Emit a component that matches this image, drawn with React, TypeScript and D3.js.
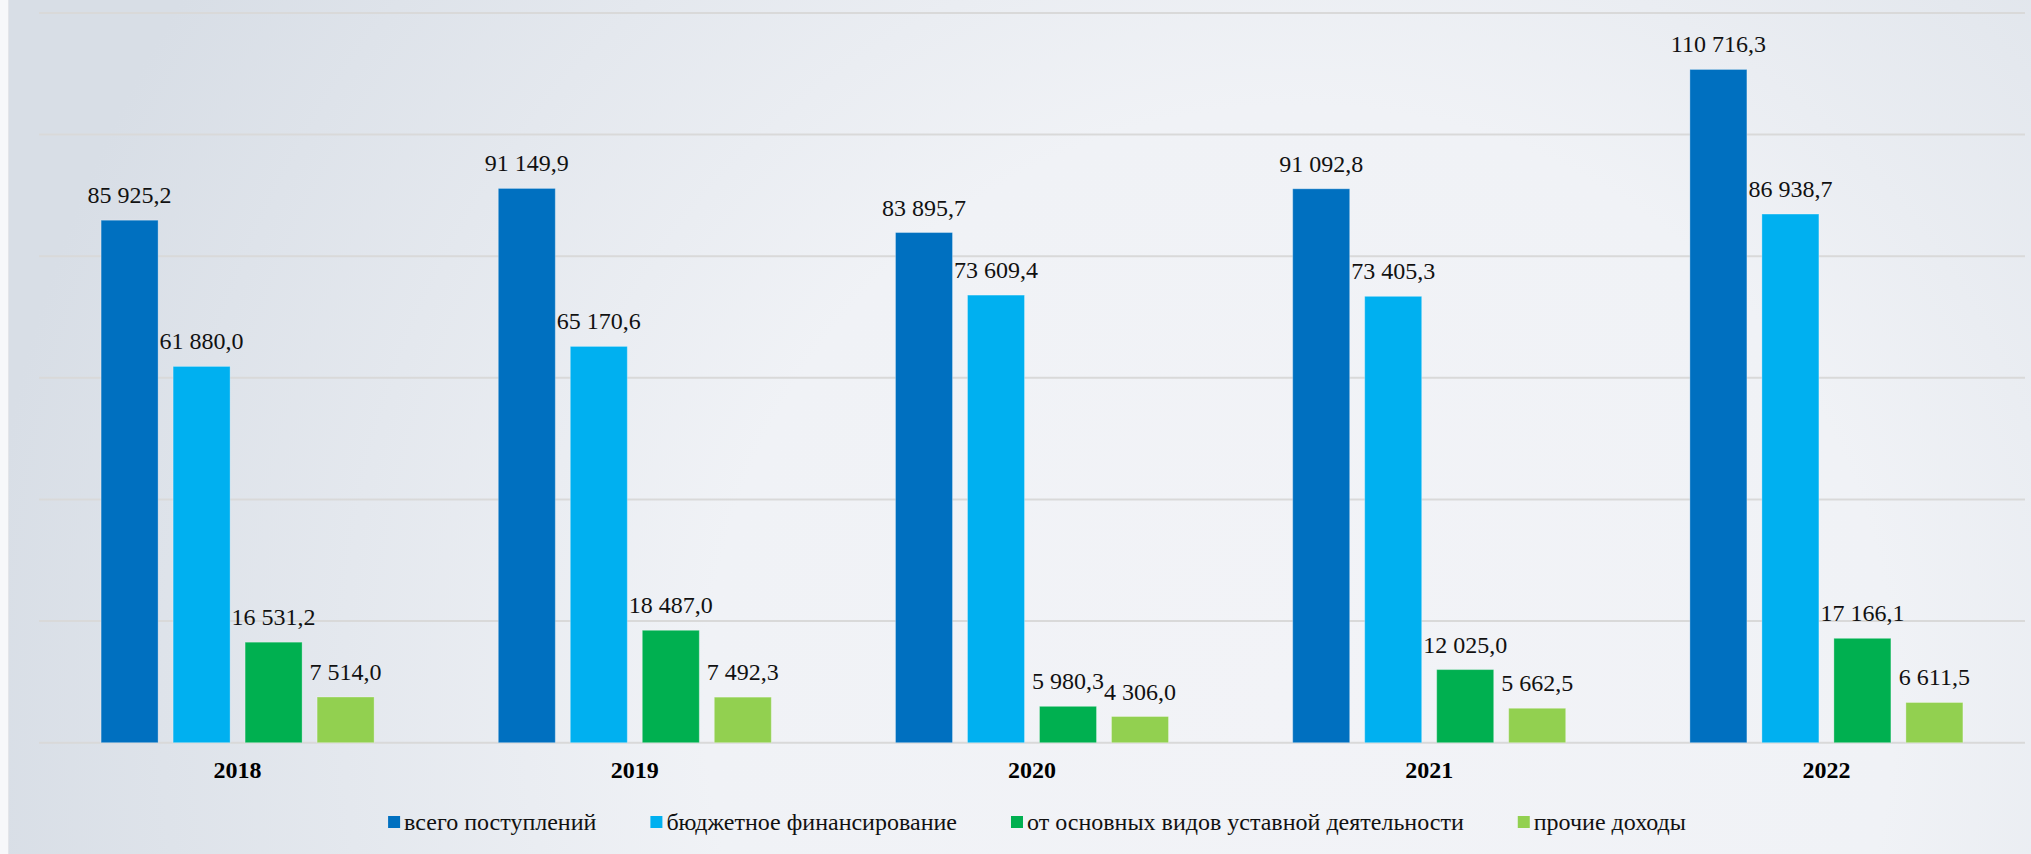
import React, { useEffect, useRef } from "react";
import * as d3 from "d3";

const years = ["2018", "2019", "2020", "2021", "2022"];
const seriesNames = [
  "всего поступлений",
  "бюджетное финансирование",
  "от основных видов уставной деятельности",
  "прочие доходы",
];
const seriesColors = ["#0070c0", "#00b0f0", "#00b050", "#92d050"];
const totalIncome = [85925.2, 91149.9, 83895.7, 91092.8, 110716.3];
const budgetFunding = [61880.0, 65170.6, 73609.4, 73405.3, 86938.7];
const mainActivity = [16531.2, 18487.0, 5980.3, 12025.0, 17166.1];
const otherIncome = [7514.0, 7492.3, 4306.0, 5662.5, 6611.5];
const gridTicks = [0, 20000, 40000, 60000, 80000, 100000, 120000];

const W = 2031;
const H = 854;
const font = "Liberation Serif, Tinos, Times New Roman, DejaVu Serif, serif";

// "85 925,2" style
const fmt = (v: number) => {
  const [int, dec] = v.toFixed(1).split(".");
  return int.replace(/\B(?=(\d{3})+(?!\d))/g, " ") + "," + dec;
};

function App() {
  const ref = useRef<SVGSVGElement>(null);

  useEffect(() => {
    const svg = d3.select(ref.current);
    svg.selectAll("*").remove();

    const defs = svg.append("defs");
    const grad = defs
      .append("radialGradient")
      .attr("id", "bg")
      .attr("gradientUnits", "userSpaceOnUse")
      .attr("cx", 1300)
      .attr("cy", 700)
      .attr("r", 1320);
    grad.append("stop").attr("offset", 0).attr("stop-color", "#f2f3f7");
    grad.append("stop").attr("offset", 0.45).attr("stop-color", "#f0f2f6");
    grad.append("stop").attr("offset", 1).attr("stop-color", "#d8dee6");

    svg.append("rect").attr("width", W).attr("height", H).attr("fill", "#f7f8fa");
    svg.append("rect").attr("x", 8).attr("width", W - 8).attr("height", H).attr("fill", "url(#bg)");
    svg.append("line").attr("x1", 8.5).attr("x2", 8.5).attr("y1", 0).attr("y2", H)
      .attr("stroke", "#e3e5e9").attr("stroke-width", 1);

    const data = [totalIncome, budgetFunding, mainActivity, otherIncome];

    const x0 = d3.scaleBand().domain(years).range([39, 2025]);
    const x1 = d3
      .scaleBand()
      .domain(seriesNames)
      .range([-136.5, 136.5])
      .paddingInner(15 / 72);
    const y = d3.scaleLinear().domain([0, 120000]).range([742.7, 13]);

    // gridlines
    svg
      .append("g")
      .selectAll("line")
      .data(gridTicks)
      .enter()
      .append("line")
      .attr("x1", 39)
      .attr("x2", 2025)
      .attr("y1", (d) => y(d))
      .attr("y2", (d) => y(d))
      .attr("stroke", "#d9d9d9")
      .attr("stroke-width", 2);

    const groups = svg
      .append("g")
      .selectAll("g")
      .data(years)
      .enter()
      .append("g")
      .attr("transform", (d) => `translate(${x0(d)! + x0.bandwidth() / 2},0)`);

    seriesNames.forEach((name, si) => {
      groups
        .append("rect")
        .attr("x", x1(name)!)
        .attr("width", x1.bandwidth())
        .attr("y", (d, i) => y(data[si][i]))
        .attr("height", (d, i) => y(0) - y(data[si][i]))
        .attr("fill", seriesColors[si])
        .attr("stroke", "rgba(255,255,255,0.3)")
        .attr("stroke-width", 1);

      groups
        .append("text")
        .attr("x", x1(name)! + x1.bandwidth() / 2)
        .attr("y", (d, i) => y(data[si][i]) - 17)
        .attr("text-anchor", "middle")
        .style("font-family", font)
        .style("font-size", "24px")
        .attr("fill", "#111")
        .text((d, i) => fmt(data[si][i]));
    });

    // category labels
    groups
      .append("text")
      .attr("y", 778)
      .attr("text-anchor", "middle")
      .style("font-family", font)
      .style("font-size", "24px")
      .style("font-weight", "bold")
      .attr("fill", "#000")
      .text((d) => d);

    // legend
    const legend = svg.append("g");
    const items = legend
      .selectAll("g")
      .data(seriesNames)
      .enter()
      .append("g");
    items
      .append("rect")
      .attr("y", 816)
      .attr("width", 12)
      .attr("height", 12)
      .attr("fill", (d, i) => seriesColors[i]);
    items
      .append("text")
      .attr("x", 16)
      .attr("y", 830)
      .style("font-family", font)
      .style("font-size", "24px")
      .attr("fill", "#111")
      .text((d) => d);

    const widths: number[] = [];
    items.select("text").each(function () {
      widths.push(16 + (this as SVGTextElement).getComputedTextLength());
    });
    const gap = 54;
    const total = d3.sum(widths) + gap * (widths.length - 1);
    let cx = 1037 - total / 2;
    items.attr("transform", (d, i) => {
      const t = `translate(${cx},0)`;
      cx += widths[i] + gap;
      return t;
    });
  }, []);

  return (
    <svg
      ref={ref}
      width={W}
      height={H}
      style={{ position: "absolute", left: 0, top: 0, display: "block" }}
    />
  );
}

export default App;
